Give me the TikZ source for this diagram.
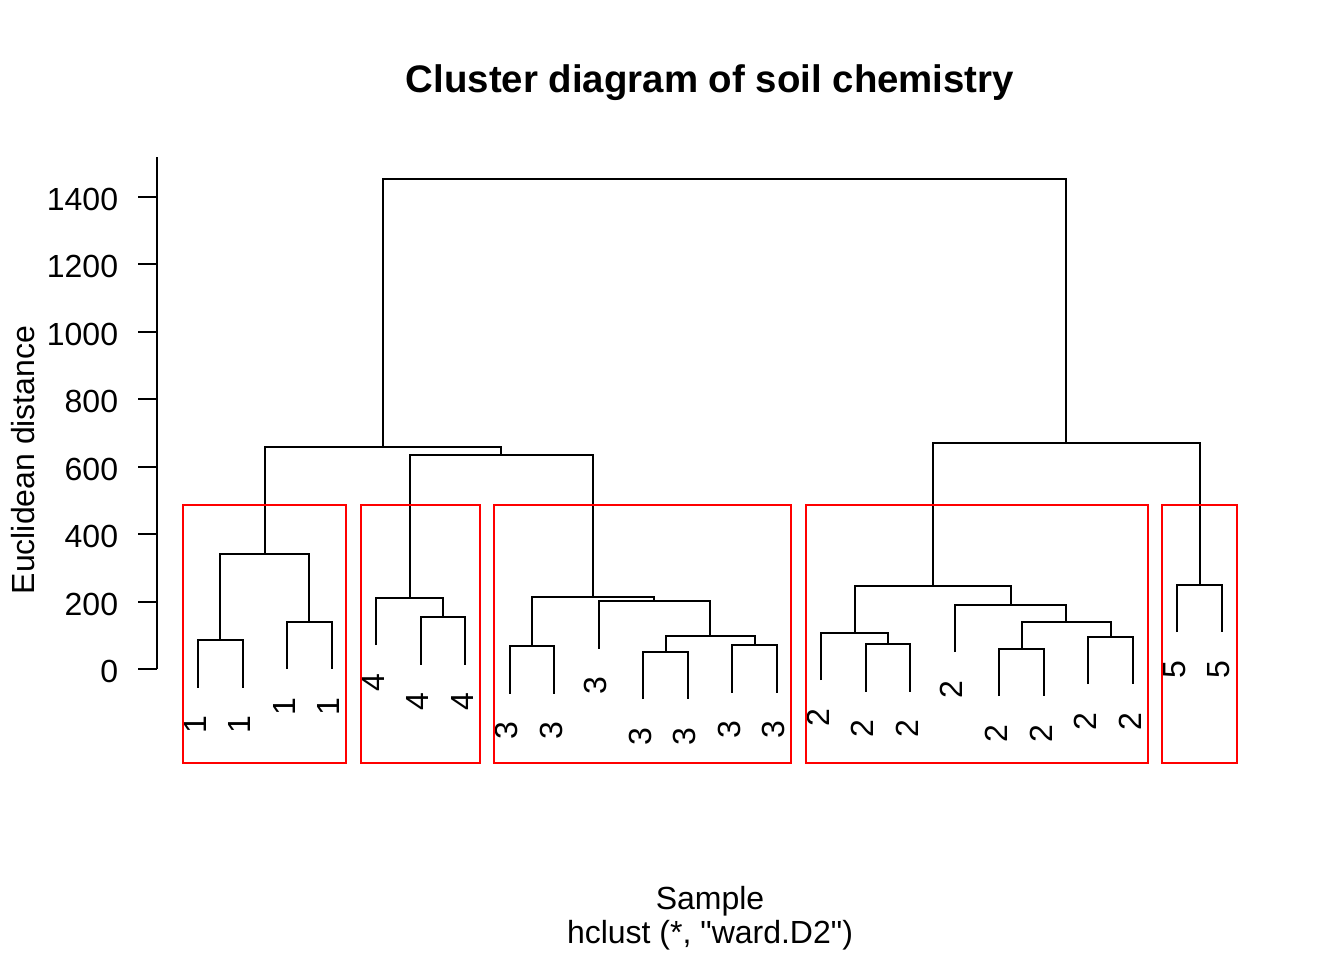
\documentclass[tikz,border=0pt]{standalone}
\usepackage{fontspec}
\setmainfont{Liberation Sans}[Ligatures=TeXOff]

\begin{document}
\begin{tikzpicture}[x=0.375pt,y=-0.375pt,font=\fontsize{12}{14.4}\selectfont,
    branch/.style={draw=black,line width=0.75pt},
    cutbox/.style={draw=red,line width=0.75pt},
    leaflab/.style={rotate=90,anchor=east,inner sep=0pt},
    ticklab/.style={anchor=east,inner sep=0pt}]
  \useasboundingbox (0,0) rectangle (1344,960);

  % Title and axis titles
  \node[anchor=base,font=\fontsize{14.4}{17}\selectfont\bfseries] (title) at (710,92) {Cluster diagram of soil chemistry};
  \node[anchor=base] (xlab) at (710,909.5) {Sample};
  \node[anchor=base] (sublab) at (710,943) {hclust (*, "ward.D2")};
  \node[anchor=base,rotate=90] (ylab) at (35,460) {Euclidean distance};

  % Vertical axis with ticks
  \draw[branch] (157,669.3) -- (157,157.3);
  \draw[branch] (157,669.3) -- (138.3,669.3);
  \draw[branch] (157,601.8) -- (138.3,601.8);
  \draw[branch] (157,534.2) -- (138.3,534.2);
  \draw[branch] (157,466.7) -- (138.3,466.7);
  \draw[branch] (157,399.2) -- (138.3,399.2);
  \draw[branch] (157,331.6) -- (138.3,331.6);
  \draw[branch] (157,264.1) -- (138.3,264.1);
  \draw[branch] (157,196.6) -- (138.3,196.6);
  \node[ticklab] (v0) at (118.6,671.7) {0};
  \node[ticklab] (v200) at (118.6,604.2) {200};
  \node[ticklab] (v400) at (118.6,536.6) {400};
  \node[ticklab] (v600) at (118.6,469.1) {600};
  \node[ticklab] (v800) at (118.6,401.6) {800};
  \node[ticklab] (v1000) at (118.6,334.0) {1000};
  \node[ticklab] (v1200) at (118.6,266.5) {1200};
  \node[ticklab] (v1400) at (118.6,199.0) {1400};

  % Leaf tips
  \coordinate (l1) at (198.0,687.5);
  \coordinate (l2) at (242.5,687.5);
  \coordinate (l3) at (287.0,669.2);
  \coordinate (l4) at (331.6,669.2);
  \coordinate (l5) at (376.1,645.2);
  \coordinate (l6) at (420.6,664.5);
  \coordinate (l7) at (465.1,664.5);
  \coordinate (l8) at (509.6,693.5);
  \coordinate (l9) at (554.2,693.5);
  \coordinate (l10) at (598.7,648.5);
  \coordinate (l11) at (643.2,699.2);
  \coordinate (l12) at (687.7,699.2);
  \coordinate (l13) at (732.2,692.5);
  \coordinate (l14) at (776.8,692.5);
  \coordinate (l15) at (821.3,680.2);
  \coordinate (l16) at (865.8,691.5);
  \coordinate (l17) at (910.3,691.5);
  \coordinate (l18) at (954.8,652.2);
  \coordinate (l19) at (999.4,696.2);
  \coordinate (l20) at (1043.9,696.2);
  \coordinate (l21) at (1088.4,684.2);
  \coordinate (l22) at (1132.9,684.2);
  \coordinate (l23) at (1177.4,632.2);
  \coordinate (l24) at (1222.0,632.2);

  % Leaf labels
  \node[leaflab] (t1) at ([shift={(-3,27.5)}]l1) {1};
  \node[leaflab] (t2) at ([shift={(-3,27.5)}]l2) {1};
  \node[leaflab] (t3) at ([shift={(-3,27.5)}]l3) {1};
  \node[leaflab] (t4) at ([shift={(-3,27.5)}]l4) {1};
  \node[leaflab] (t5) at ([shift={(-3,27.5)}]l5) {4};
  \node[leaflab] (t6) at ([shift={(-3,27.5)}]l6) {4};
  \node[leaflab] (t7) at ([shift={(-3,27.5)}]l7) {4};
  \node[leaflab] (t8) at ([shift={(-3,27.5)}]l8) {3};
  \node[leaflab] (t9) at ([shift={(-3,27.5)}]l9) {3};
  \node[leaflab] (t10) at ([shift={(-3,27.5)}]l10) {3};
  \node[leaflab] (t11) at ([shift={(-3,27.5)}]l11) {3};
  \node[leaflab] (t12) at ([shift={(-3,27.5)}]l12) {3};
  \node[leaflab] (t13) at ([shift={(-3,27.5)}]l13) {3};
  \node[leaflab] (t14) at ([shift={(-3,27.5)}]l14) {3};
  \node[leaflab] (t15) at ([shift={(-3,27.5)}]l15) {2};
  \node[leaflab] (t16) at ([shift={(-3,27.5)}]l16) {2};
  \node[leaflab] (t17) at ([shift={(-3,27.5)}]l17) {2};
  \node[leaflab] (t18) at ([shift={(-3,27.5)}]l18) {2};
  \node[leaflab] (t19) at ([shift={(-3,27.5)}]l19) {2};
  \node[leaflab] (t20) at ([shift={(-3,27.5)}]l20) {2};
  \node[leaflab] (t21) at ([shift={(-3,27.5)}]l21) {2};
  \node[leaflab] (t22) at ([shift={(-3,27.5)}]l22) {2};
  \node[leaflab] (t23) at ([shift={(-3,27.5)}]l23) {5};
  \node[leaflab] (t24) at ([shift={(-3,27.5)}]l24) {5};

  % Merge points
  \coordinate (m12) at (220.2,640);
  \coordinate (m34) at (309.3,621.7);
  \coordinate (m14) at (264.8,554);
  \coordinate (m67) at (442.9,617);
  \coordinate (m57) at (409.5,597.7);
  \coordinate (m89) at (531.9,646);
  \coordinate (m1112) at (665.5,651.7);
  \coordinate (m1314) at (754.5,645);
  \coordinate (m1114) at (710,636);
  \coordinate (m1014) at (654.4,601);
  \coordinate (m814) at (593.1,596.7);
  \coordinate (m514) at (501.3,455);
  \coordinate (m114) at (383,447);
  \coordinate (m1617) at (888,644);
  \coordinate (m1517) at (854.7,632.7);
  \coordinate (m1920) at (1021.6,648.7);
  \coordinate (m2122) at (1110.7,636.7);
  \coordinate (m1922) at (1066.2,621.7);
  \coordinate (m1822) at (1010.5,604.7);
  \coordinate (m1522) at (932.6,585.7);
  \coordinate (m2324) at (1199.7,584.7);
  \coordinate (m1524) at (1066.2,442.7);
  \coordinate (root) at (724.6,179);

  % Branches
  \draw[branch] (l1) |- (m12) -| (l2);
  \draw[branch] (l3) |- (m34) -| (l4);
  \draw[branch] (m12) |- (m14) -| (m34);
  \draw[branch] (l6) |- (m67) -| (l7);
  \draw[branch] (l5) |- (m57) -| (m67);
  \draw[branch] (l8) |- (m89) -| (l9);
  \draw[branch] (l11) |- (m1112) -| (l12);
  \draw[branch] (l13) |- (m1314) -| (l14);
  \draw[branch] (m1112) |- (m1114) -| (m1314);
  \draw[branch] (l10) |- (m1014) -| (m1114);
  \draw[branch] (m89) |- (m814) -| (m1014);
  \draw[branch] (m57) |- (m514) -| (m814);
  \draw[branch] (m14) |- (m114) -| (m514);
  \draw[branch] (l16) |- (m1617) -| (l17);
  \draw[branch] (l15) |- (m1517) -| (m1617);
  \draw[branch] (l19) |- (m1920) -| (l20);
  \draw[branch] (l21) |- (m2122) -| (l22);
  \draw[branch] (m1920) |- (m1922) -| (m2122);
  \draw[branch] (l18) |- (m1822) -| (m1922);
  \draw[branch] (m1517) |- (m1522) -| (m1822);
  \draw[branch] (l23) |- (m2324) -| (l24);
  \draw[branch] (m1522) |- (m1524) -| (m2324);
  \draw[branch] (m114) |- (root) -| (m1524);

  % Cluster boxes
  \draw[cutbox] (182.7,505) rectangle (346,763.3);
  \draw[cutbox] (360.7,505) rectangle (480,763.3);
  \draw[cutbox] (494,505) rectangle (790.7,763.3);
  \draw[cutbox] (806,505) rectangle (1148,763.3);
  \draw[cutbox] (1162,505) rectangle (1236.7,763.3);
\end{tikzpicture}
\end{document}
